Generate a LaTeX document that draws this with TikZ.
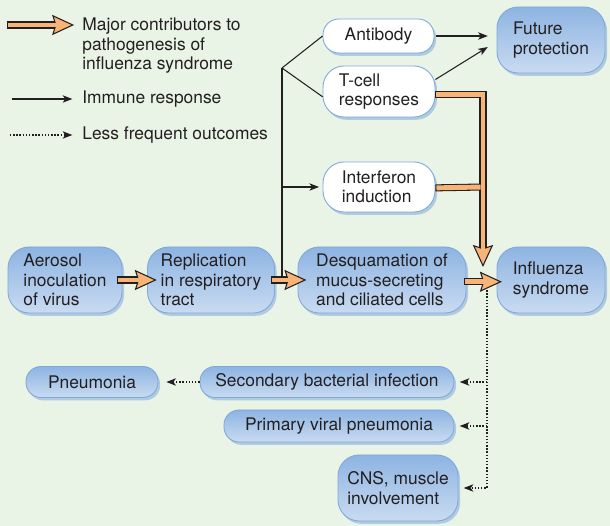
\documentclass[tikz,border=0pt]{standalone}
\usepackage{fontspec}
\setmainfont{TeX Gyre Heros}
\usetikzlibrary{arrows.meta,shadows}

\definecolor{mint}{HTML}{E9F3E6}
\definecolor{stageblue}{HTML}{8DB4E2}
\definecolor{stagepale}{HTML}{EAF1FA}
\definecolor{stagerim}{HTML}{C9DBF1}
\definecolor{rimblue}{HTML}{7FA9DB}
\definecolor{shadeblue}{HTML}{8AAFD9}
\definecolor{fatorange}{HTML}{F8B477}
\definecolor{ink}{HTML}{231F20}

\tikzset{
	box/.style={draw=rimblue, line width=0.5pt, align=left, inner sep=0pt, text=ink,
		drop shadow={shadow xshift=1.2pt, shadow yshift=-1.6pt, fill=shadeblue, opacity=0.6}},
	stage/.style={box, top color=stageblue, middle color=stagepale, bottom color=stagerim, rounded corners=12pt},
	pill/.style={stage, rounded corners=8.5pt},
	immune/.style={box, fill=white, rounded corners=12pt},
	link/.style={draw=ink, line width=0.6pt},
	resp/.style={link, -{Stealth[length=5.5pt, width=4.2pt, inset=1.5pt]}},
	less/.style={resp, line width=0.7pt, dash pattern=on 0.8pt off 1pt},
	fatshaft/.style={draw=ink, line width=4pt, line join=miter,
		postaction={draw=fatorange, line width=2.8pt, shorten <=0.6pt}},
	fat/.style={draw=ink, line width=4pt, line join=miter,
		-{Stealth[length=12.5pt, width=11.5pt, inset=1.8pt, fill=fatorange, line width=0.6pt]},
		postaction={draw=fatorange, line width=2.8pt, arrows=-, shorten <=0.6pt, shorten >=9.8pt}}
}

\begin{document}
\begin{tikzpicture}[x=0.02cm, y=-0.02cm, font=\fontsize{9.9}{11.1}\selectfont]
	\useasboundingbox (0,0) rectangle (610,526);
	\fill [mint] (0,0) rectangle (610,526);

	% key
	\node [anchor=north west, inner sep=0pt, align=left, text=ink] (keymajor) at (82,17.5) {Major contributors to\\pathogenesis of\\influenza syndrome};
	\node [anchor=west, inner sep=0pt, text=ink] (keyimmune) at (82,99) {Immune response};
	\node [anchor=west, inner sep=0pt, text=ink] (keyless) at (82,135) {Less frequent outcomes};
	\coordinate (keyfat) at (7,25);
	\coordinate (keyarrow) at (12,99);
	\coordinate (keydots) at (10,135);

	% course of infection
	\node [stage, minimum width=2.28cm, minimum height=1.32cm] (aerosol) at (65,280) {Aerosol\\inoculation\\of virus};
	\node [stage, minimum width=2.54cm, minimum height=1.32cm] (replication) at (211,280) {Replication\\in respiratory\\tract};
	\node [stage, minimum width=3.36cm, minimum height=1.32cm] (desquamation) at (382,280) {Desquamation of\\mucus-secreting\\and ciliated cells};
	\node [stage, minimum width=2.16cm, minimum height=1.32cm] (influenza) at (551,280) {Influenza\\syndrome};
	\node [stage, minimum width=2.16cm, minimum height=1.32cm] (protection) at (551,40) {Future\\protection};

	% host response
	\node [immune, rounded corners=9pt, minimum width=2.22cm, minimum height=0.68cm] (antibody) at (378.5,36) {Antibody};
	\node [immune, minimum width=2.24cm, minimum height=1.02cm] (tcell) at (379,91.5) {T-cell\\responses};
	\node [immune, minimum width=2.24cm, minimum height=1.0cm] (interferon) at (379,187) {Interferon\\induction};

	% outcomes
	\node [pill, minimum width=2.64cm, minimum height=0.62cm] (pneumonia) at (92,382) {Pneumonia};
	\node [pill, minimum width=5.08cm, minimum height=0.62cm] (secondary) at (327,382) {Secondary bacterial infection};
	\node [pill, minimum width=4.6cm, minimum height=0.64cm] (primary) at (339,426) {Primary viral pneumonia};
	\node [stage, minimum width=2.4cm, minimum height=1.32cm] (cns) at (398,488) {CNS, muscle\\involvement};

	\coordinate (fork) at (282,68);
	\coordinate (merge) at (483,267);
	\coordinate (split) at (487,287);

	\draw [link] (fork) -- (antibody.west);
	\draw [link] (fork) -- ([yshift=-3pt]tcell.west);
	\draw [link] (fork) -- (fork |- replication.east);
	\draw [resp] (fork |- interferon.west) -- ([xshift=-2pt]interferon.west);
	\draw [resp, shorten <=1pt] (antibody.east) -- ([xshift=-5pt]antibody.east -| protection.west);
	\draw [resp] (tcell.12) -- ([xshift=-5pt, yshift=-4pt]protection.west);

	\draw [less] (split) |- ([xshift=3pt]cns.east);
	\draw [less] (split |- secondary.east) -- ([xshift=3pt]secondary.east);
	\draw [less] (split |- primary.east) -- ([xshift=3pt]primary.east);
	\draw [less] (secondary.west) -- ([xshift=4.5pt]pneumonia.east);

	\draw [fat] ([xshift=-3pt]aerosol.east) -- ([xshift=5.5pt]replication.west);
	\draw [fat] ([xshift=-2pt]replication.east) -- ([xshift=5pt]desquamation.west);
	\draw [fat] ([xshift=-1.5pt, yshift=-1pt]desquamation.east) -- ([xshift=3pt, yshift=-1pt]influenza.west);
	\draw [fat] ([yshift=-1.5pt]tcell.east) -| (merge);
	\draw [fatshaft, shorten >=1.4pt] ([yshift=-0.5pt]interferon.east) -- (merge |- interferon.east);

	\draw [fat, shorten >=4.5pt] (keyfat) -- (keyfat -| keymajor.west);
	\draw [resp, shorten >=5.5pt] (keyarrow) -- (keyimmune.west);
	\draw [less, shorten >=5.5pt] (keydots) -- (keyless.west);
\end{tikzpicture}
\end{document}
